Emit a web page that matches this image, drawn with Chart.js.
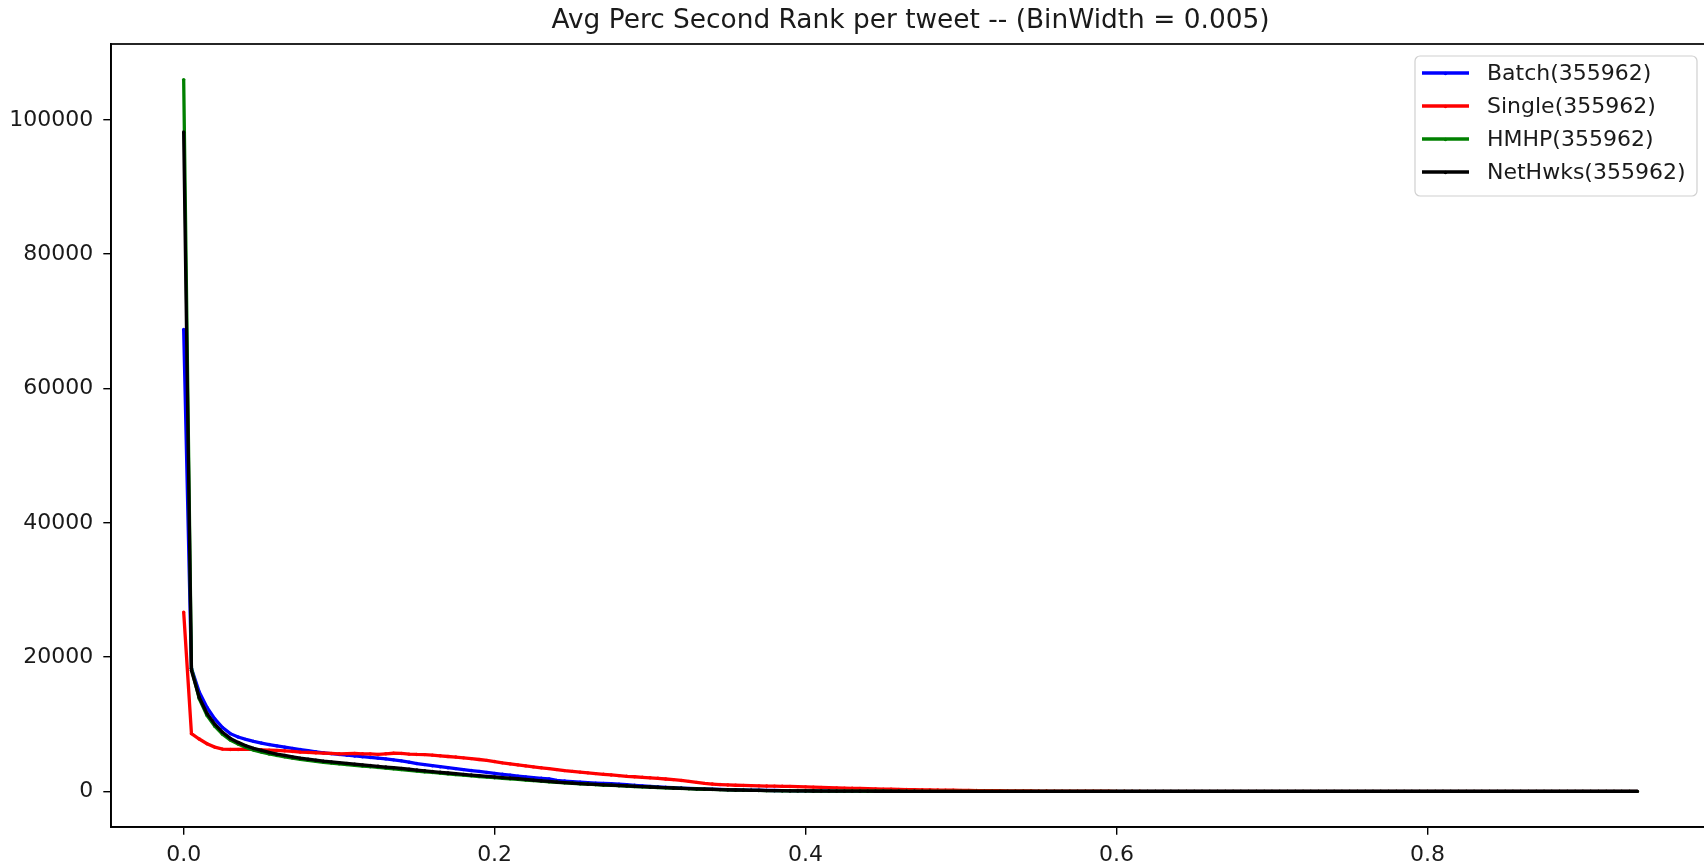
<!DOCTYPE html>
<html>
<head>
<meta charset="utf-8">
<script src="https://cdn.jsdelivr.net/npm/chart.js@4/dist/chart.umd.min.js"></script>
<style>
  html, body { margin: 0; padding: 0; background: #fff; overflow: hidden; }
  #wrap { width: 1716px; height: 864px; }
</style>
</head>
<body>
<div id="wrap"><canvas id="chart" width="1716" height="864"></canvas></div>
<script>
// histogram bins, width 0.005, from 0.000 to 0.935
const binWidth = 0.005;
const seriesNames = ['Batch(355962)', 'Single(355962)', 'HMHP(355962)', 'NetHwks(355962)'];
const xTicks = [0, 0.2, 0.4, 0.6, 0.8];
const yTicks = [0, 20000, 40000, 60000, 80000, 100000];

const batch = [
  68800, 18300, 14800, 12500, 10800, 9500, 8600, 8100, 7750, 7450,
  7200, 6980, 6780, 6580, 6400, 6230, 6070, 5900, 5750, 5620,
  5500, 5390, 5280, 5170, 5060, 4950, 4840, 4700, 4550, 4350,
  4150, 3990, 3830, 3680, 3530, 3390, 3250, 3110, 2970, 2830,
  2690, 2550, 2410, 2280, 2160, 2050, 1950, 1860, 1640, 1540,
  1450, 1370, 1300, 1240, 1190, 1140, 1090, 1000, 910, 820,
  740, 670, 610, 550, 500, 450, 405, 365, 330, 300,
  270, 245, 220, 195, 175, 155, 138, 122, 108, 96,
  85, 75, 66, 58, 51, 45, 40, 35, 31, 27,
  24, 21, 19, 17, 15, 13, 12, 11, 10, 9,
  8, 7, 7, 6, 6, 5, 5, 4, 4, 4,
  3, 3, 3, 3, 2, 2, 2, 2, 2, 2,
  2, 2, 1, 1, 1, 1, 1, 1, 1, 1,
  1, 1, 1, 1, 1, 1, 0, 1, 1, 0,
  0, 1, 0, 0, 1, 0, 0, 0, 0, 0,
  0, 0, 0, 0, 0, 0, 0, 0, 0, 0,
  0, 0, 0, 0, 0, 0, 0, 0, 0, 0,
  0, 0, 0, 0, 0, 0, 0, 0, 0, 0,
  0, 0, 0, 0, 0, 0, 0, 0
];

const single = [
  26700, 8600, 7800, 7100, 6600, 6300, 6250, 6250, 6300, 6250,
  6200, 6150, 6100, 6050, 5950, 5850, 5800, 5750, 5700, 5650,
  5600, 5620, 5650, 5600, 5580, 5520, 5600, 5680, 5650, 5550,
  5500, 5480, 5400, 5300, 5200, 5120, 5000, 4880, 4750, 4620,
  4450, 4250, 4100, 3950, 3800, 3650, 3520, 3400, 3250, 3100,
  2980, 2870, 2760, 2650, 2550, 2450, 2350, 2250, 2180, 2100,
  2030, 1950, 1850, 1750, 1630, 1500, 1350, 1200, 1100, 1020,
  960, 920, 890, 860, 830, 800, 780, 760, 740, 710,
  680, 640, 600, 560, 520, 490, 460, 430, 400, 370,
  345, 320, 300, 280, 260, 240, 220, 200, 185, 170,
  155, 140, 128, 116, 105, 95, 86, 78, 70, 63,
  57, 51, 46, 41, 37, 33, 30, 27, 24, 21,
  19, 17, 15, 13, 12, 11, 10, 9, 8, 7,
  6, 6, 5, 5, 4, 4, 4, 3, 3, 3,
  3, 2, 2, 2, 2, 2, 2, 1, 1, 1,
  1, 1, 1, 1, 1, 1, 0, 1, 0, 1,
  0, 0, 1, 0, 0, 0, 0, 0, 0, 0,
  0, 0, 0, 0, 0, 0, 0, 0, 0, 0,
  0, 0, 0, 0, 0, 0, 0, 0
];

const hmhp = [
  106000, 18300, 13800, 11300, 9700, 8500, 7650, 7050, 6550, 6150,
  5850, 5580, 5350, 5150, 4950, 4780, 4620, 4480, 4340, 4230,
  4110, 4000, 3890, 3780, 3680, 3570, 3460, 3360, 3250, 3140,
  3030, 2920, 2820, 2710, 2610, 2510, 2410, 2320, 2220, 2130,
  2040, 1950, 1870, 1790, 1700, 1610, 1530, 1440, 1360, 1280,
  1210, 1140, 1070, 1010, 950, 900, 850, 790, 730, 680,
  630, 580, 530, 490, 440, 400, 360, 320, 290, 260,
  230, 200, 180, 160, 140, 125, 110, 98, 87, 77,
  69, 61, 54, 48, 43, 38, 34, 30, 27, 24,
  21, 19, 17, 15, 14, 12, 11, 10, 9, 8,
  7, 6, 6, 5, 5, 4, 4, 4, 3, 3,
  3, 2, 2, 2, 2, 2, 2, 1, 1, 1,
  1, 1, 1, 1, 1, 1, 1, 1, 0, 1,
  1, 0, 1, 0, 0, 1, 0, 0, 0, 0,
  0, 0, 0, 0, 0, 0, 0, 0, 0, 0,
  0, 0, 0, 0, 0, 0, 0, 0, 0, 0,
  0, 0, 0, 0, 0, 0, 0, 0, 0, 0,
  0, 0, 0, 0, 0, 0, 0, 0, 0, 0,
  0, 0, 0, 0, 0, 0, 0, 0
];

const netHwks = [
  98200, 18000, 14000, 11600, 10000, 8800, 7900, 7300, 6800, 6400,
  6100, 5800, 5550, 5350, 5150, 4950, 4800, 4650, 4500, 4400,
  4280, 4170, 4060, 3950, 3850, 3740, 3630, 3530, 3420, 3300,
  3180, 3070, 2960, 2850, 2740, 2640, 2540, 2440, 2340, 2240,
  2150, 2060, 1970, 1890, 1780, 1680, 1580, 1480, 1390, 1310,
  1240, 1170, 1100, 1040, 980, 930, 880, 820, 760, 710,
  660, 610, 560, 510, 460, 420, 380, 340, 300, 270,
  240, 210, 185, 165, 145, 130, 115, 102, 90, 80,
  72, 64, 57, 51, 46, 41, 37, 33, 30, 27,
  24, 22, 20, 18, 16, 15, 13, 12, 11, 10,
  9, 8, 8, 7, 7, 6, 6, 5, 5, 5,
  4, 4, 4, 4, 3, 3, 3, 3, 3, 2,
  2, 2, 2, 2, 2, 2, 2, 1, 1, 1,
  1, 1, 1, 1, 1, 1, 1, 1, 1, 1,
  1, 1, 1, 1, 0, 1, 0, 1, 0, 0,
  0, 1, 0, 0, 0, 0, 1, 0, 0, 0,
  0, 0, 0, 0, 0, 0, 0, 0, 0, 0,
  0, 0, 0, 0, 0, 0, 0, 0, 0, 0,
  0, 0, 0, 0, 0, 0, 0, 0
];

const bins = batch.map((_, i) => +(i * binWidth).toFixed(3));
const colors = ['#0000ff', '#ff0000', '#008000', '#000000'];
const values = [batch, single, hmhp, netHwks];

const FONT = '"DejaVu Sans", sans-serif';

const datasets = values.map((vals, k) => ({
  label: seriesNames[k],
  data: vals.map((v, i) => ({ x: bins[i], y: v })),
  borderColor: colors[k],
  backgroundColor: colors[k],
  borderWidth: 3.3,
  pointRadius: 1.7,
  pointBorderWidth: 0,
  pointBackgroundColor: colors[k],
  tension: 0,
  fill: false,
  // matplotlib draws later series on top
  order: values.length - k
}));

// title, full frame and the legend box, drawn like matplotlib
const decorations = {
  id: 'decorations',
  afterDraw(chart) {
    const { ctx, chartArea } = chart;
    ctx.save();
    ctx.strokeStyle = '#000';
    ctx.lineWidth = 1.7;
    ctx.strokeRect(chartArea.left, chartArea.top, chartArea.right - chartArea.left, chartArea.bottom - chartArea.top);

    ctx.fillStyle = '#1a1a1a';
    ctx.font = '26.4px ' + FONT;
    ctx.textAlign = 'center';
    ctx.textBaseline = 'middle';
    ctx.fillText('Avg Perc Second Rank per tweet -- (BinWidth = 0.005)', (chartArea.left + chartArea.right) / 2, 21);

    // legend
    const bx = 1415, by = 56, bw = 282, bh = 140, r = 5;
    ctx.beginPath();
    ctx.moveTo(bx + r, by);
    ctx.arcTo(bx + bw, by, bx + bw, by + bh, r);
    ctx.arcTo(bx + bw, by + bh, bx, by + bh, r);
    ctx.arcTo(bx, by + bh, bx, by, r);
    ctx.arcTo(bx, by, bx + bw, by, r);
    ctx.closePath();
    ctx.fillStyle = 'rgba(255,255,255,0.8)';
    ctx.fill();
    ctx.strokeStyle = '#d0d0d0';
    ctx.lineWidth = 1.2;
    ctx.stroke();

    ctx.font = '22px ' + FONT;
    ctx.textAlign = 'left';
    chart.data.datasets.forEach((ds, k) => {
      const y = 73 + k * 33;
      ctx.strokeStyle = ds.borderColor;
      ctx.lineWidth = 3.3;
      ctx.beginPath();
      ctx.moveTo(1422, y);
      ctx.lineTo(1469, y);
      ctx.stroke();
      ctx.fillStyle = ds.borderColor;
      ctx.beginPath();
      ctx.arc(1445.5, y + 0.5, 1.8, 0, Math.PI * 2);
      ctx.fill();
      ctx.fillStyle = '#1a1a1a';
      ctx.fillText(ds.label, 1487, y + 1);
    });
    ctx.restore();
  }
};

new Chart(document.getElementById('chart'), {
  type: 'line',
  data: { datasets },
  options: {
    responsive: false,
    animation: false,
    devicePixelRatio: 1,
    layout: { padding: { top: 44, right: 6, bottom: 0, left: 0 } },
    plugins: {
      legend: { display: false },
      title: { display: false },
      tooltip: { enabled: false }
    },
    scales: {
      x: {
        type: 'linear',
        min: -0.04675,
        max: 0.98175,
        afterBuildTicks: (axis) => { axis.ticks = xTicks.map(v => ({ value: v })); },
        afterFit: (axis) => { axis.height = 37; },
        grid: { drawOnChartArea: false, drawTicks: true, tickLength: 7.7, color: '#000', lineWidth: 1.4 },
        border: { display: true, color: '#000', width: 1.7 },
        ticks: {
          padding: 7,
          maxRotation: 0,
          color: '#1a1a1a',
          font: { family: FONT, size: 22 },
          callback: (v) => v.toFixed(1)
        }
      },
      y: {
        min: -5300,
        max: 111300,
        afterBuildTicks: (axis) => { axis.ticks = yTicks.map(v => ({ value: v })); },
        afterFit: (axis) => { axis.width = 111; },
        grid: { drawOnChartArea: false, drawTicks: true, tickLength: 7.7, color: '#000', lineWidth: 1.4 },
        border: { display: true, color: '#000', width: 1.7 },
        ticks: {
          padding: 10,
          color: '#1a1a1a',
          font: { family: FONT, size: 22 },
          callback: (v) => String(v)
        }
      }
    }
  },
  plugins: [decorations]
});
</script>
</body>
</html>
